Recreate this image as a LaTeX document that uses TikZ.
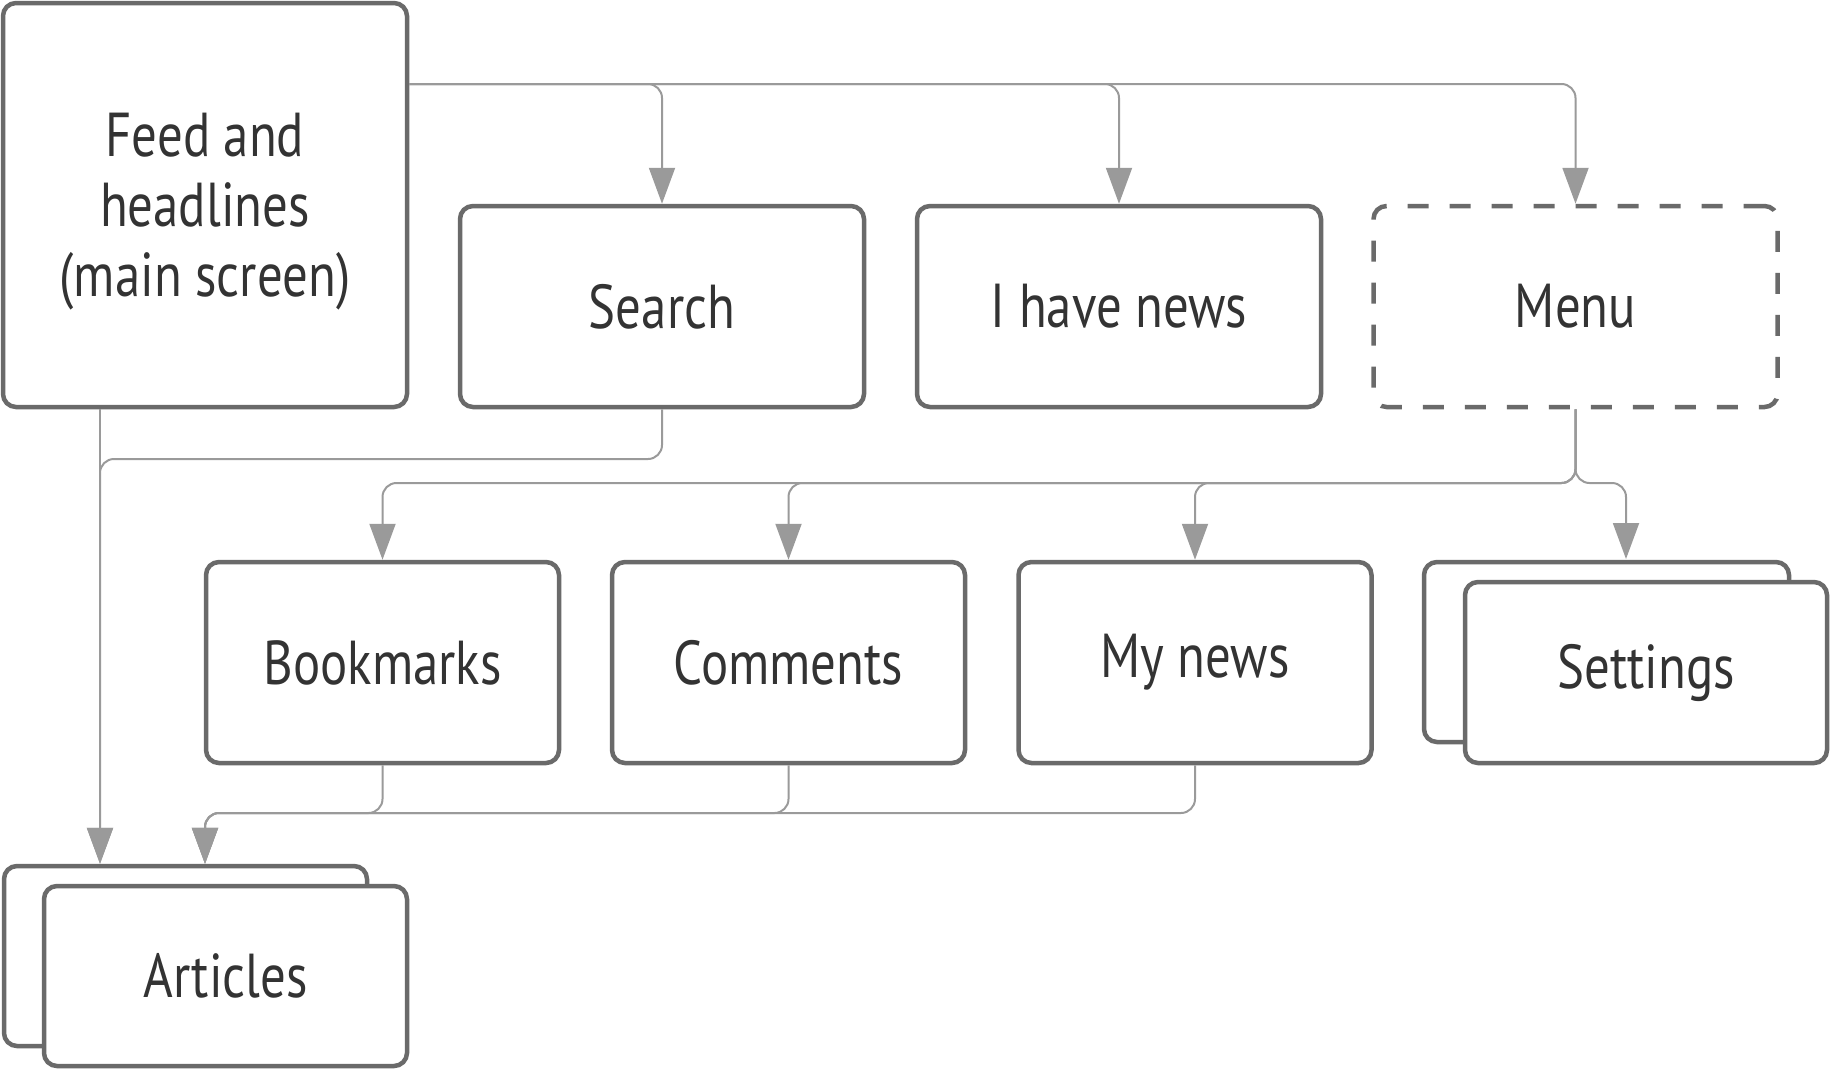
\documentclass[tikz,border=0pt]{standalone}
\usepackage{fontspec}
\setmainfont{PT Sans}[FakeStretch=0.82]
\usetikzlibrary{arrows.meta}
\definecolor{boxgray}{HTML}{6A6A6A}
\definecolor{linegray}{HTML}{9A9A9A}
\definecolor{txt}{HTML}{333333}
\tikzset{
  card/.style={draw=boxgray, line width=4.5pt, rounded corners=13pt, fill=white,
    text=txt, inner sep=0pt, align=center,
    font=\fontsize{62}{70}\selectfont},
  wide/.style={card, minimum width=404pt, minimum height=201pt},
  mid/.style={card, minimum width=353pt, minimum height=201pt},
  conn/.style={draw=linegray, line width=2pt, rounded corners=14pt,
    -{Triangle[length=36pt,width=26pt]}},
}
\begin{document}
\begin{tikzpicture}[x=1pt,y=-1pt]
\useasboundingbox (0,0) rectangle (1830,1071);
% nodes
\node[card, minimum width=404pt, minimum height=404pt, text depth=0pt] (feed) at (205,205) {Feed and\\headlines\\(main screen)};
\node[wide] (search) at (662,306.5) {Search};
\node[wide] (news) at (1119,306.5) {I have news};
\node[wide, dashed, dash pattern=on 21pt off 21pt] (menu) at (1575.5,306.5) {Menu};
\node[mid] (bm) at (382.5,662.5) {Bookmarks};
\node[mid] (cm) at (788.5,662.5) {Comments};
\node[mid] (my) at (1195,662.5) {My news};
\node[card, minimum width=365pt, minimum height=180pt] (setb) at (1606.5,652) {};
\node[card, minimum width=362pt, minimum height=181pt] (set) at (1646,672.5) {Settings};
\node[card, minimum width=363pt, minimum height=180pt] (artb) at (185.5,956) {};
\node[card, minimum width=363pt, minimum height=180pt] (art) at (225.5,976) {Articles};
% coordinates
\coordinate (fr) at (409,84);
\coordinate (fb) at (100,409);
\coordinate (sj) at (100,459);
\coordinate (mj) at (1576,483);
\coordinate (sa) at (1626,559);
\coordinate (bj) at (205,813);
% connectors
\draw[conn] (fr) -| (menu.north);
\draw[conn] (fr) -| (news.north);
\draw[conn] (fr) -| (search.north);
\draw[conn] (fb) -- (fb |- artb.north);
\draw[conn] (search.south) |- (sj) -- (fb |- artb.north);
\draw[conn] (menu.south) |- (bm.north |- mj) -- (bm.north);
\draw[conn] (menu.south) |- (cm.north |- mj) -- (cm.north);
\draw[conn] (menu.south) |- (my.north |- mj) -- (my.north);
\draw[conn] (menu.south) |- (sa |- mj) -- (sa);
\draw[conn] (my.south) |- (bj) -- (bj |- artb.north);
\draw[conn] (cm.south) |- (bj) -- (bj |- artb.north);
\draw[conn] (bm.south) |- (bj) -- (bj |- artb.north);
\end{tikzpicture}
\end{document}
